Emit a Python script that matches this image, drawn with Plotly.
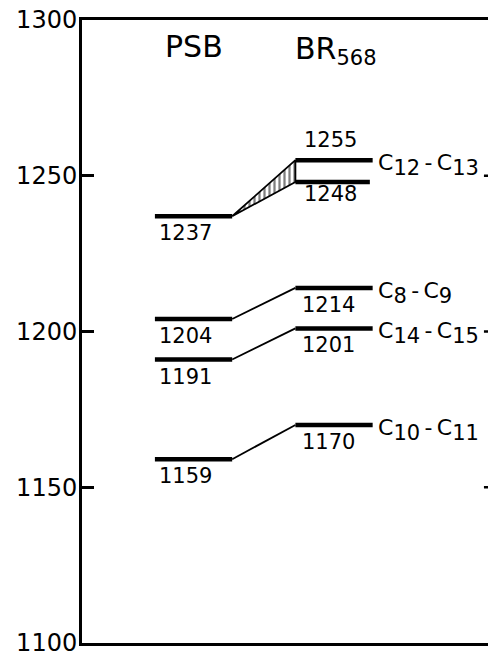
import plotly.graph_objects as go

# ---- data ----
columns = ["PSB", "BR<sub>568</sub>"]
bond_atoms = [("12", "13"), ("8", "9"), ("14", "15"), ("10", "11")]
psb_freq = [1237, 1204, 1191, 1159]
br_freq = [1255, 1214, 1201, 1170]
br_split = [1248, None, None, None]
y_ticks = [1100, 1150, 1200, 1250, 1300]
y_tick_labels = ["1100", "1150", "1200", "1250", "1300"]

# ---- style ----
FONT = "DejaVu Sans"
col_x = [1, 2]
hw = 0.275
LEVEL_W = 4.5
CONN_W = 1.8


def sub(t, px=21):
    return f"<sub><span style='font-size:{px}px'>{t}</span></sub>"


bonds = [f"C{sub(a)}\u2009-\u2009C{sub(b)}" for a, b in bond_atoms]

fig = go.Figure()


def level(x0, x1, y):
    fig.add_trace(go.Scatter(x=[x0, x1], y=[y, y], mode="lines",
                             line=dict(color="black", width=LEVEL_W),
                             hoverinfo="skip", showlegend=False))


def conn(y0, y1):
    fig.add_trace(go.Scatter(x=[col_x[0] + hw, col_x[1] - hw], y=[y0, y1], mode="lines",
                             line=dict(color="black", width=CONN_W),
                             hoverinfo="skip", showlegend=False))


annotations = []
VAL_FONT = dict(family=FONT, size=21, color="black")
for i, bond in enumerate(bonds):
    p, b, s = psb_freq[i], br_freq[i], br_split[i]
    if s is not None:
        fig.add_trace(go.Scatter(
            x=[col_x[0] + hw, col_x[1] - hw, col_x[1] - hw, col_x[0] + hw],
            y=[p, b, s, p], mode="lines", fill="toself",
            fillcolor="white",
            fillpattern=dict(shape="|", fgcolor="black", bgcolor="white", size=5, solidity=0.45),
            line=dict(color="black", width=CONN_W),
            hoverinfo="skip", showlegend=False))
        level(col_x[1] - hw, col_x[1] + hw - 0.02, s)
    else:
        conn(p, b)
    level(col_x[0] - hw, col_x[0] + hw, p)
    level(col_x[1] - hw, col_x[1] + hw, b)

    # value labels
    annotations.append(dict(x=col_x[0], y=p, text=str(p), showarrow=False,
                            xanchor="center", yanchor="middle", yshift=-17, xshift=-8,
                            font=VAL_FONT))
    if s is not None:
        annotations.append(dict(x=col_x[1], y=b, text=str(b), showarrow=False,
                                xanchor="center", yanchor="middle", yshift=20, xshift=-4,
                                font=VAL_FONT))
        annotations.append(dict(x=col_x[1], y=s, text=str(s), showarrow=False,
                                xanchor="center", yanchor="middle", yshift=-12, xshift=-4,
                                font=VAL_FONT))
    else:
        annotations.append(dict(x=col_x[1], y=b, text=str(b), showarrow=False,
                                xanchor="center", yanchor="middle", yshift=-17, xshift=-6,
                                font=VAL_FONT))
    annotations.append(dict(x=col_x[1] + hw, y=b, text=bond, showarrow=False,
                            xanchor="left", yanchor="middle", xshift=3, yshift=-5,
                            font=dict(family=FONT, size=22, color="black")))

# column headers
annotations.append(dict(x=col_x[0], y=1300, text=columns[0], showarrow=False,
                        xanchor="center", yanchor="middle", yshift=-26, xshift=0,
                        font=dict(family=FONT, size=30, color="black")))
annotations.append(dict(x=col_x[1] - hw, y=1300, text=columns[1], showarrow=False,
                        xanchor="left", yanchor="middle", yshift=-30, xshift=-2,
                        font=dict(family=FONT, size=30, color="black")))

# right-side ticks of the cut-off right axis
shapes = []
for t in y_ticks[1:-1]:
    shapes.append(dict(type="line", xref="paper", yref="y", x0=0.99, x1=1.0, y0=t, y1=t,
                       line=dict(color="black", width=2.5)))

fig.update_layout(
    width=488, height=657,
    margin=dict(l=82, r=0, t=20, b=14),
    paper_bgcolor="white", plot_bgcolor="white",
    annotations=annotations, shapes=shapes,
    font=dict(family=FONT, color="black"),
    xaxis=dict(range=[0.206, 3.096], showgrid=False, zeroline=False, automargin=False,
               showticklabels=False, ticks="", showline=True, mirror=True,
               linecolor="black", linewidth=3),
    yaxis=dict(range=[1100, 1300], showgrid=False, zeroline=False, automargin=False,
               tickmode="array", tickvals=y_ticks, ticktext=y_tick_labels,
               ticks="inside", ticklen=12, tickwidth=2.5, tickcolor="black",
               showline=True, mirror=False, linecolor="black", linewidth=3,
               ticklabelstandoff=-3, ticklabeloverflow="allow",
               tickfont=dict(family=FONT, size=24, color="black")),
)

fig.write_html("out.html", config={"displayModeBar": False},
               post_script="document.body.style.margin='0';document.body.style.overflow='hidden';")
